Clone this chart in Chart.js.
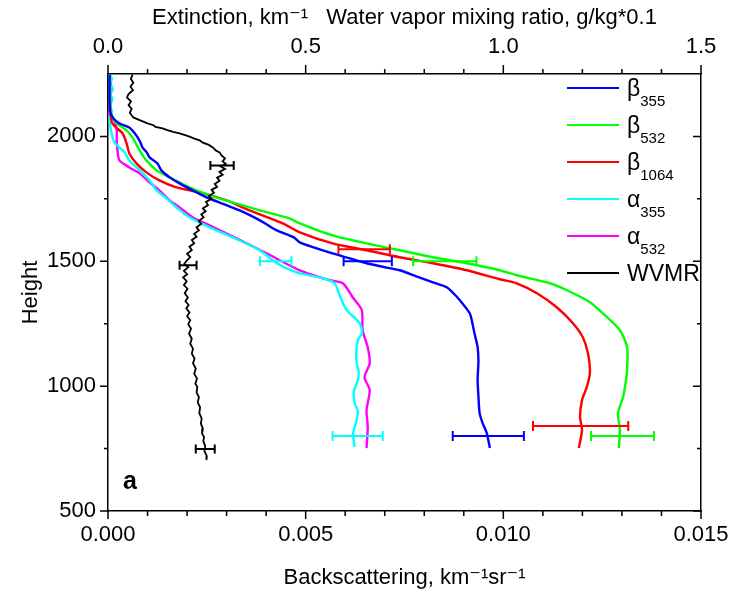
<!DOCTYPE html>
<html><head><meta charset="utf-8">
<script src="https://cdn.jsdelivr.net/npm/chart.js@4.4.1/dist/chart.umd.min.js"></script>
<style>html,body{margin:0;padding:0;background:#fff;}#wrap{width:729px;height:594px;}</style>
</head><body><div id="wrap"><canvas id="c" width="729" height="594"></canvas></div>
<script>
const seriesLabels = ['β355','β532','β1064','α355','α532','WVMR'];
const legendBase = ['β','β','β','α','α','WVMR'];
const legendSub = ['355','532','1064','355','532',''];
const seriesColors = ['#0000ff','#00ff00','#ff0000','#00ffff','#ff00ff','#000000'];
const seriesAxis = ['x','x','x','x2','x2','x2'];

// Backscattering beta 355 (km-1 sr-1) vs height
const b355H = [2248,2144,2096,2072,2052,2036,2016,1996,1976,1956,1936,1916,1892,1864,1836,1812,1784,1756,1728,1704,1684,1664,1644,1624,1596,1576,1556,1532,1492,1478,1464,1440,1416,1396,1370,1344,1292,1250,1212,1156,1100,1024,960,892,850,812,752];
const b355V = [0.00004,0.00004,0.00006,0.00014,0.00029,0.00054,0.00066,0.00075,0.00082,0.00087,0.00098,0.00105,0.00125,0.00135,0.00156,0.00181,0.00214,0.00249,0.00295,0.00333,0.00360,0.00384,0.00405,0.00427,0.00470,0.00485,0.00520,0.00568,0.00654,0.00695,0.00738,0.00780,0.00822,0.00857,0.00875,0.00890,0.00915,0.00922,0.00927,0.00935,0.00937,0.00935,0.00937,0.00940,0.00948,0.00958,0.00966];

// Backscattering beta 532
const b532H = [2248,2104,2076,2052,2024,1996,1970,1944,1904,1864,1836,1796,1764,1736,1704,1672,1652,1604,1572,1544,1516,1492,1464,1444,1412,1384,1336,1276,1224,1156,1064,1000,956,892,824,752];
const b532V = [0.00004,0.00006,0.00012,0.00022,0.00047,0.00062,0.00071,0.00080,0.00097,0.00123,0.00156,0.00206,0.00257,0.00315,0.00384,0.00459,0.00485,0.00568,0.00654,0.00738,0.00822,0.00908,0.00991,0.01034,0.01118,0.01161,0.01219,0.01262,0.01295,0.01313,0.01313,0.01308,0.01303,0.01290,0.01295,0.01292];

// Backscattering beta 1064
const b1064H = [2248,2104,2052,2012,1972,1932,1892,1856,1824,1796,1776,1744,1704,1652,1616,1572,1544,1516,1492,1464,1428,1412,1372,1316,1252,1196,1132,1052,996,944,876,824,752];
const b1064V = [0.00004,0.00006,0.00011,0.00037,0.00047,0.00054,0.00072,0.00097,0.00130,0.00173,0.00232,0.00300,0.00358,0.00442,0.00485,0.00568,0.00654,0.00738,0.00822,0.00908,0.00991,0.01034,0.01085,0.01135,0.01176,0.01201,0.01214,0.01219,0.01211,0.01199,0.01194,0.01199,0.01191];

// Extinction alpha 355 (km-1)
const a355H = [2248,2230,2210,2190,2170,2150,2124,2100,2076,2040,2012,1976,1956,1936,1904,1864,1824,1784,1752,1716,1676,1636,1596,1544,1492,1456,1432,1412,1364,1330,1304,1276,1252,1212,1184,1140,1092,1060,1024,980,932,900,864,810,756];
const a355V = [0.004,0.010,0.005,0.012,0.006,0.011,0.006,0.010,0.004,0.006,0.009,0.016,0.029,0.042,0.054,0.080,0.105,0.123,0.148,0.173,0.206,0.257,0.315,0.384,0.427,0.477,0.543,0.573,0.586,0.595,0.604,0.622,0.637,0.642,0.632,0.628,0.629,0.634,0.632,0.622,0.624,0.632,0.629,0.620,0.624];

// Extinction alpha 532
const a532H = [2248,2200,2144,2092,2064,2024,1984,1944,1904,1876,1852,1816,1784,1744,1716,1676,1644,1592,1532,1464,1424,1412,1356,1304,1224,1156,1092,1036,984,904,836,752];
const a532V = [0.004,0.008,0.006,0.004,0.016,0.022,0.022,0.024,0.029,0.054,0.080,0.105,0.130,0.156,0.181,0.214,0.257,0.325,0.401,0.485,0.561,0.594,0.619,0.642,0.644,0.657,0.662,0.649,0.662,0.654,0.657,0.654];

// Water vapor mixing ratio (g/kg*0.1)
const wvH = [2248,2230,2215,2200,2185,2170,2156,2140,2125,2110,2095,2076,2065,2052,2045,2038,2032,2025,2018,2012,2005,1998,1990,1984,1975,1966,1956,1945,1935,1924,1912,1900,1890,1880,1870,1858,1846,1835,1822,1810,1798,1786,1774,1762,1750,1738,1725,1712,1700,1688,1676,1662,1650,1636,1624,1610,1598,1585,1572,1558,1545,1530,1517,1504,1490,1476,1462,1448,1436,1420,1405,1390,1372,1355,1340,1325,1312,1295,1280,1264,1248,1230,1210,1190,1170,1150,1130,1110,1092,1070,1050,1030,1010,996,975,955,935,915,892,870,850,830,810,796,780,760,740,720,704];
const wvV = [0.062,0.058,0.064,0.057,0.063,0.052,0.048,0.058,0.052,0.060,0.055,0.064,0.080,0.100,0.115,0.120,0.138,0.150,0.165,0.181,0.195,0.208,0.220,0.232,0.240,0.255,0.265,0.272,0.283,0.287,0.296,0.290,0.298,0.285,0.296,0.282,0.290,0.276,0.282,0.270,0.276,0.262,0.268,0.255,0.262,0.248,0.253,0.240,0.247,0.236,0.242,0.230,0.236,0.224,0.230,0.218,0.224,0.212,0.218,0.206,0.212,0.200,0.208,0.200,0.193,0.203,0.192,0.200,0.190,0.199,0.192,0.201,0.194,0.202,0.196,0.204,0.198,0.206,0.200,0.208,0.203,0.210,0.205,0.212,0.208,0.215,0.212,0.219,0.215,0.222,0.218,0.225,0.221,0.226,0.224,0.230,0.227,0.233,0.231,0.237,0.235,0.240,0.238,0.243,0.241,0.246,0.244,0.250,0.249];

const seriesH = [b355H,b532H,b1064H,a355H,a532H,wvH];
const seriesV = [b355V,b532V,b1064V,a355V,a532V,wvV];

// Error bars: series index, height, low, high
const errSeries = [0,0,1,1,2,2,3,3,5,5,5];
const errH = [800,1500,800,1500,840,1548,800,1500,1884,1484,748];
const errLo = [0.00872,0.00596,0.01222,0.00772,0.01075,0.00583,0.568,0.384,0.259,0.181,0.222];
const errHi = [0.01052,0.00718,0.01381,0.00932,0.01316,0.00713,0.695,0.464,0.318,0.224,0.270];

const xTicks = [0,0.005,0.010,0.015];
const x2Ticks = [0,0.5,1.0,1.5];
const yTicks = [500,1000,1500,2000];
const panelLabel = 'a';

const FONT = "'Liberation Sans', Arial, 'DejaVu Sans', sans-serif";
Chart.defaults.font.family = FONT;
Chart.defaults.color = '#000';

const datasets = seriesLabels.map((lab,i)=>({
  label: lab,
  data: seriesH[i].map((h,j)=>({x: seriesV[i][j], y: h})),
  xAxisID: seriesAxis[i], yAxisID: 'y',
  borderColor: seriesColors[i], backgroundColor: seriesColors[i],
  borderWidth: i===5 ? 1.8 : 2.4,
  pointRadius: 0, tension: i===5 ? 0 : 0.25, fill: false,
  order: i===5 ? -1 : i
}));

const tickPlugin = {
  id: 'tickmarks',
  afterDraw(chart){
    const ctx = chart.ctx, a = chart.chartArea, s = chart.scales;
    ctx.save(); ctx.strokeStyle = '#000'; ctx.lineWidth = 1.5; ctx.beginPath();
    for (let k=0;k<=15;k++){
      const px = s.x.getPixelForValue(k*0.001); const len = k%5===0 ? 8 : 5;
      ctx.moveTo(px, a.bottom); ctx.lineTo(px, a.bottom+len);
      const qx = s.x2.getPixelForValue(k*0.1); const len2 = k%5===0 ? 9 : 5;
      ctx.moveTo(qx, a.top); ctx.lineTo(qx, a.top-len2);
    }
    for (let k=0;k<=6;k++){
      const v = 500 + k*250; const py = s.y.getPixelForValue(v); const len = k%2===0 ? 8 : 4;
      ctx.moveTo(a.left, py); ctx.lineTo(a.left-len, py);
      ctx.moveTo(a.right, py); ctx.lineTo(a.right-len, py);
    }
    ctx.stroke(); ctx.restore();
  }
};

const errPlugin = {
  id: 'errbars',
  afterDatasetsDraw(chart){
    const ctx = chart.ctx, s = chart.scales;
    ctx.save();
    for (let i=0;i<errSeries.length;i++){
      const si = errSeries[i]; const xs = s[seriesAxis[si]];
      const py = s.y.getPixelForValue(errH[i]);
      const x1 = xs.getPixelForValue(errLo[i]), x2 = xs.getPixelForValue(errHi[i]);
      const cap = si===5 ? 4.5 : 5;
      ctx.strokeStyle = seriesColors[si]; ctx.lineWidth = 2;
      ctx.beginPath();
      ctx.moveTo(x1,py); ctx.lineTo(x2,py);
      ctx.moveTo(x1,py-cap); ctx.lineTo(x1,py+cap);
      ctx.moveTo(x2,py-cap); ctx.lineTo(x2,py+cap);
      ctx.stroke();
    }
    ctx.restore();
  }
};

const legendPlugin = {
  id: 'customLegend',
  afterDatasetsDraw(chart){
    const ctx = chart.ctx;
    ctx.save();
    const x0 = 567, x1 = 619, tx = 627, y0 = 88, dy = 37;
    chart.data.datasets.forEach((ds,i)=>{
      const y = y0 + i*dy;
      ctx.strokeStyle = ds.borderColor; ctx.lineWidth = 2;
      ctx.beginPath(); ctx.moveTo(x0,y); ctx.lineTo(x1,y); ctx.stroke();
      ctx.fillStyle = '#000'; ctx.textBaseline = 'alphabetic'; ctx.textAlign = 'left';
      ctx.font = "23px " + FONT;
      ctx.fillText(legendBase[i], tx, y + 8);
      if (legendSub[i]) {
        const w = ctx.measureText(legendBase[i]).width;
        ctx.font = "15px " + FONT;
        ctx.fillText(legendSub[i], tx + w, y + 18);
      }
    });
    ctx.font = "bold 25px " + FONT;
    ctx.fillText(panelLabel, 123, 489);
    ctx.restore();
  }
};

const noPad = sc => { sc.paddingLeft = 0; sc.paddingRight = 0; sc.paddingTop = 0; sc.paddingBottom = 0; };
const tickFont = {size: 22};
new Chart(document.getElementById('c'), {
  type: 'line',
  data: {datasets},
  options: {
    responsive: false, animation: false, devicePixelRatio: 1,
    layout: {padding: 0},
    plugins: {legend: {display: false}, tooltip: {enabled: false}},
    scales: {
      x: {
        type: 'linear', position: 'bottom', min: 0, max: 0.015,
        afterBuildTicks: sc => { sc.ticks = xTicks.map(value => ({value})); },
        afterFit: sc => { sc.height = 83; noPad(sc); },
        ticks: {font: tickFont, padding: 11, maxRotation: 0, callback: v => v.toFixed(3)},
        grid: {display: false, drawTicks: false},
        border: {display: true, color: '#000', width: 1.5},
        title: {display: true, text: 'Backscattering, km⁻¹sr⁻¹', font: {size: 22}, padding: {top: 0, bottom: 3}}
      },
      x2: {
        type: 'linear', position: 'top', min: 0, max: 1.5,
        afterBuildTicks: sc => { sc.ticks = x2Ticks.map(value => ({value})); },
        afterFit: sc => { sc.height = 74; noPad(sc); },
        ticks: {font: tickFont, padding: 14, maxRotation: 0, callback: v => v.toFixed(1)},
        grid: {display: false, drawTicks: false},
        border: {display: true, color: '#000', width: 1.5},
        title: {display: true, text: 'Extinction, km⁻¹   Water vapor mixing ratio, g/kg*0.1', font: {size: 22}, padding: {top: 5, bottom: 0}}
      },
      y: {
        type: 'linear', position: 'left', min: 500, max: 2250,
        afterBuildTicks: sc => { sc.ticks = yTicks.map(value => ({value})); },
        afterFit: sc => { sc.width = 108; noPad(sc); },
        ticks: {font: tickFont, padding: 12, callback: v => String(v)},
        grid: {display: false, drawTicks: false},
        border: {display: true, color: '#000', width: 1.5},
        title: {display: true, text: 'Height', font: {size: 22}, padding: {top: 18, bottom: 0}}
      },
      y2: {
        type: 'linear', position: 'right', min: 500, max: 2250,
        afterFit: sc => { sc.width = 28; noPad(sc); },
        ticks: {display: false},
        grid: {display: false, drawTicks: false},
        border: {display: true, color: '#000', width: 1.5}
      }
    }
  },
  plugins: [tickPlugin, errPlugin, legendPlugin]
});
</script></body></html>
